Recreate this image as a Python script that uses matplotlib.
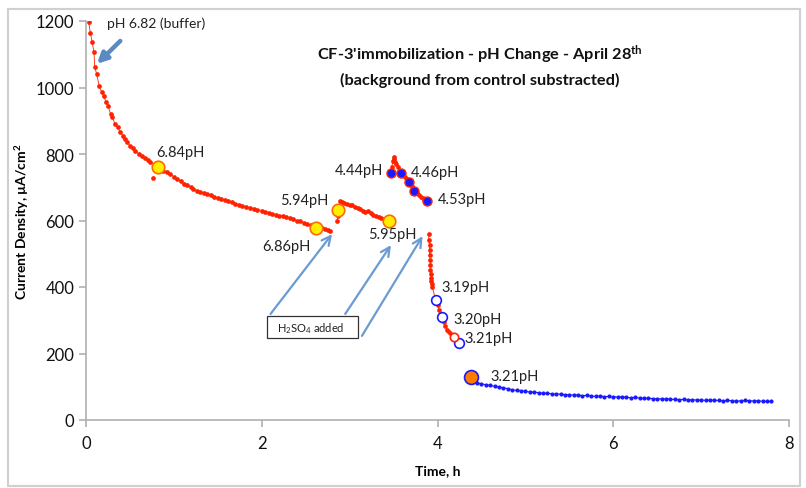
import numpy as np
import matplotlib
matplotlib.use("Agg")
import matplotlib.pyplot as plt
from matplotlib.patches import Rectangle

plt.rcParams['font.family'] = ['Lato', 'DejaVu Sans']
plt.rcParams['mathtext.fontset'] = 'custom'
plt.rcParams['mathtext.rm'] = 'Lato'
plt.rcParams['mathtext.it'] = 'Lato:italic'
plt.rcParams['mathtext.bf'] = 'Lato:bold'

# buffer, first part (red)
tA = [0.03, 0.05, 0.07, 0.09, 0.10, 0.12, 0.15, 0.18, 0.20, 0.23, 0.25, 0.28, 0.30, 0.33,
      0.36, 0.39, 0.42, 0.44, 0.47, 0.50, 0.53, 0.56, 0.60, 0.64, 0.67, 0.70, 0.73,
      0.79, 0.82, 0.85, 0.88, 0.92, 0.96, 1.00, 1.04, 1.08, 1.11, 1.15, 1.19, 1.22, 1.26,
      1.30, 1.34, 1.38, 1.42, 1.46, 1.50, 1.54, 1.58, 1.62, 1.66, 1.70, 1.74, 1.78, 1.82,
      1.87, 1.91, 1.95, 2.00, 2.04, 2.08, 2.12, 2.16, 2.20, 2.24, 2.28, 2.32, 2.36, 2.40,
      2.44, 2.48, 2.52, 2.56, 2.60, 2.64, 2.68, 2.72, 2.75, 2.78]
yA = [1197, 1164, 1137, 1107, 1062, 1041, 1005, 985, 974, 956, 945, 920, 912, 890,
      880, 866, 855, 845, 836, 824, 818, 809, 800, 794, 788, 782, 776,
      768, 761, 755, 750, 746, 740, 731, 725, 718, 710, 706, 700, 695, 690,
      686, 683, 680, 676, 672, 668, 665, 662, 658, 655, 651, 648, 645, 641,
      638, 636, 633, 630, 627, 624, 620, 618, 615, 614, 611, 607, 604, 600,
      597, 593, 590, 586, 583, 579, 576, 574, 572, 569]
t_outlier = [0.76]
y_outlier = [728]

# after first acid addition
tB = [2.86, 2.87, 2.88, 2.89, 2.91, 2.94, 2.97, 3.00, 3.03, 3.06, 3.09, 3.12, 3.15, 3.18,
      3.21, 3.24, 3.27, 3.30, 3.33, 3.36, 3.39, 3.42, 3.45, 3.48]
yB = [598, 615, 640, 659, 655, 652, 650, 646, 648, 640, 638, 636, 630, 626,
      628, 622, 617, 614, 612, 608, 606, 602, 598, 591]

# second addition
tC = [3.47, 3.48, 3.49, 3.50, 3.51, 3.52, 3.53, 3.55, 3.57, 3.59, 3.61, 3.63, 3.65, 3.67,
      3.69, 3.71, 3.73, 3.75, 3.77, 3.79, 3.81, 3.83, 3.85, 3.88]
yC = [742, 760, 778, 790, 785, 775, 770, 762, 750, 742, 736, 730, 724, 717,
      710, 703, 692, 688, 682, 678, 672, 668, 664, 660]
tC_mark = [3.47, 3.58, 3.67, 3.73, 3.88]
yC_mark = [742, 744, 717, 690, 660]

# third addition
tD = [3.90, 3.90, 3.91, 3.91, 3.91, 3.92, 3.92, 3.92, 3.93, 3.93, 3.93, 3.94, 3.94,
      3.98, 4.00, 4.02, 4.05, 4.07, 4.09, 4.11, 4.13, 4.15, 4.17, 4.19, 4.22, 4.24]
yD = [559, 540, 525, 510, 495, 480, 466, 452, 440, 428, 418, 408, 400,
      361, 345, 330, 310, 295, 282, 272, 265, 258, 252, 248, 240, 232]
tD_open = [3.98, 4.05, 4.24]
yD_open = [361, 310, 232]

# final part (blue)
tE = [4.40, 4.45, 4.50, 4.55, 4.60, 4.65, 4.70, 4.75, 4.80, 4.85, 4.90, 4.95, 5.00, 5.05,
      5.10, 5.15, 5.20, 5.25, 5.30, 5.35, 5.40, 5.45, 5.50, 5.55, 5.60, 5.65, 5.70, 5.75,
      5.80, 5.85, 5.90, 5.95, 6.00, 6.05, 6.10, 6.15, 6.20, 6.25, 6.30, 6.35, 6.40, 6.45,
      6.50, 6.55, 6.60, 6.65, 6.70, 6.75, 6.80, 6.85, 6.90, 6.95, 7.00, 7.05, 7.10, 7.15,
      7.20, 7.25, 7.30, 7.35, 7.40, 7.45, 7.50, 7.55, 7.60, 7.65, 7.70, 7.75, 7.80]
yE = [116, 112, 109, 106, 104, 101, 99, 97, 94, 91,
      89, 88, 86, 84, 84, 82, 80, 80, 79, 78,
      78, 76, 76, 75, 75, 73, 74, 72, 71, 72,
      70, 71, 70, 69, 70, 68, 67, 68, 66, 65,
      66, 64, 64, 63, 64, 62, 62, 61, 62, 60,
      61, 60, 60, 59, 60, 59, 59, 58, 59, 58,
      56, 58, 59, 58, 57, 58, 56, 56, 56]

t_yellow = [0.82, 2.62, 2.87, 3.45]
y_yellow = [761, 577, 632, 598]

# pH labels: text, t, y
ph_labels = ["6.84pH", "6.86pH", "5.95pH", "4.44pH", "4.46pH", "4.53pH",
             "3.19pH", "3.20pH", "3.21pH", "3.21pH"]
ph_t = [0.80, 2.01, 3.21, 2.83, 3.70, 4.00, 4.04, 4.18, 4.31, 4.60]
ph_y = [806, 523, 559, 752, 746, 665, 400, 304, 247, 132]

red = '#ff2200'
blue = '#1a1aff'

fig = plt.figure(figsize=(8.06, 4.89), dpi=100)
ax = fig.add_axes([86/806, 68/489, 703/806, 399/489])

for t, y in [(tA, yA), (tB, yB), (tC, yC), (tD, yD)]:
    ax.plot(t, y, color=red, lw=0.6, marker='o', ms=3.4, mew=0)
ax.plot(t_outlier, y_outlier, 'o', color=red, ms=3.4, mew=0)
ax.plot(tE, yE, color=blue, lw=0.8, marker='o', ms=3, mew=0)

ax.plot(t_yellow, y_yellow, 'o', ms=9, mfc='#ffee00', mec='#ff6a00', mew=1.2, ls='none')
ax.plot(tC_mark, yC_mark, 'o', ms=6.5, mfc=blue, mec=red, mew=1, ls='none')
ax.plot(tD_open, yD_open, 'o', ms=7, mfc='white', mec=blue, mew=1.2, ls='none')
ax.plot([4.19], [250], 'o', ms=6, mfc='white', mec=red, mew=1.2)
ax.plot([4.38], [129], 'o', ms=10, mfc='#ff7a00', mec=blue, mew=1.2)

for s, t, y in zip(ph_labels, ph_t, ph_y):
    ax.text(t, y, s, fontsize=10.5, color='#222222', va='center', ha='left')
ax.text(2.76, 662, "5.94pH", fontsize=10.5, color='#222222', va='center', ha='right')

ax.text(0.24, 1194, "pH 6.82 (buffer)", fontsize=10, color='#222222', va='center')
ax.annotate("", xy=(0.125, 1071), xytext=(0.39, 1140),
            arrowprops=dict(arrowstyle='-|>', color='#5b8ac2', lw=3.2, mutation_scale=15,
                            shrinkA=0, shrinkB=0))

# H2SO4 box and arrows
ax.add_patch(Rectangle((2.06, 247), 1.03, 66, fill=False, ec='#333333', lw=0.9))
ax.text(2.17, 277, "H$_2$SO$_4$ added", fontsize=8, color='#222222', va='center')
arrow_tails = [(2.10, 319), (2.95, 319), (3.14, 253)]
arrow_heads = [(2.80, 559), (3.47, 526), (3.83, 553)]
for tail, head in zip(arrow_tails, arrow_heads):
    ax.annotate("", xy=head, xytext=tail,
                arrowprops=dict(arrowstyle='->', color='#6b9bd2', lw=1.6, mutation_scale=16,
                                shrinkA=0, shrinkB=0))

ax.set_xlim(0, 8)
ax.set_ylim(0, 1200)
ax.set_xticks([0, 2, 4, 6, 8])
ax.set_yticks([0, 200, 400, 600, 800, 1000, 1200])
for side in ['top', 'right']:
    ax.spines[side].set_visible(False)
for side in ['left', 'bottom']:
    ax.spines[side].set_color('#b0b0b0')
    ax.spines[side].set_linewidth(1.2)
ax.tick_params(colors='#b0b0b0', length=5, width=1.2, labelsize=12, labelcolor='#111111')
ax.tick_params(axis='x', pad=6)

ax.set_xlabel("Time, h", fontsize=10, fontweight='bold', labelpad=9)
ax.set_ylabel(r"Current Density, µA/cm$^{\mathbf{2}}$", fontsize=10, fontweight='bold')
ax.yaxis.set_label_coords((31 - 86) / 703, 0.5)

fig.text(480/806, 1 - 55/489, r"CF-3'immobilization - pH Change - April 28$^{\mathbf{th}}$",
         fontsize=11.8, fontweight='bold', ha='center', va='center', color='#111111')
fig.text(480/806, 1 - 80/489, "(background from control substracted)",
         fontsize=11.8, fontweight='bold', ha='center', va='center', color='#111111')

fig.patches.append(Rectangle((8/806, 2/489), 792/806, 477/489, transform=fig.transFigure,
                             fill=False, ec='#d0d0d0', lw=1.5))

fig.savefig("out.png", dpi=100)
